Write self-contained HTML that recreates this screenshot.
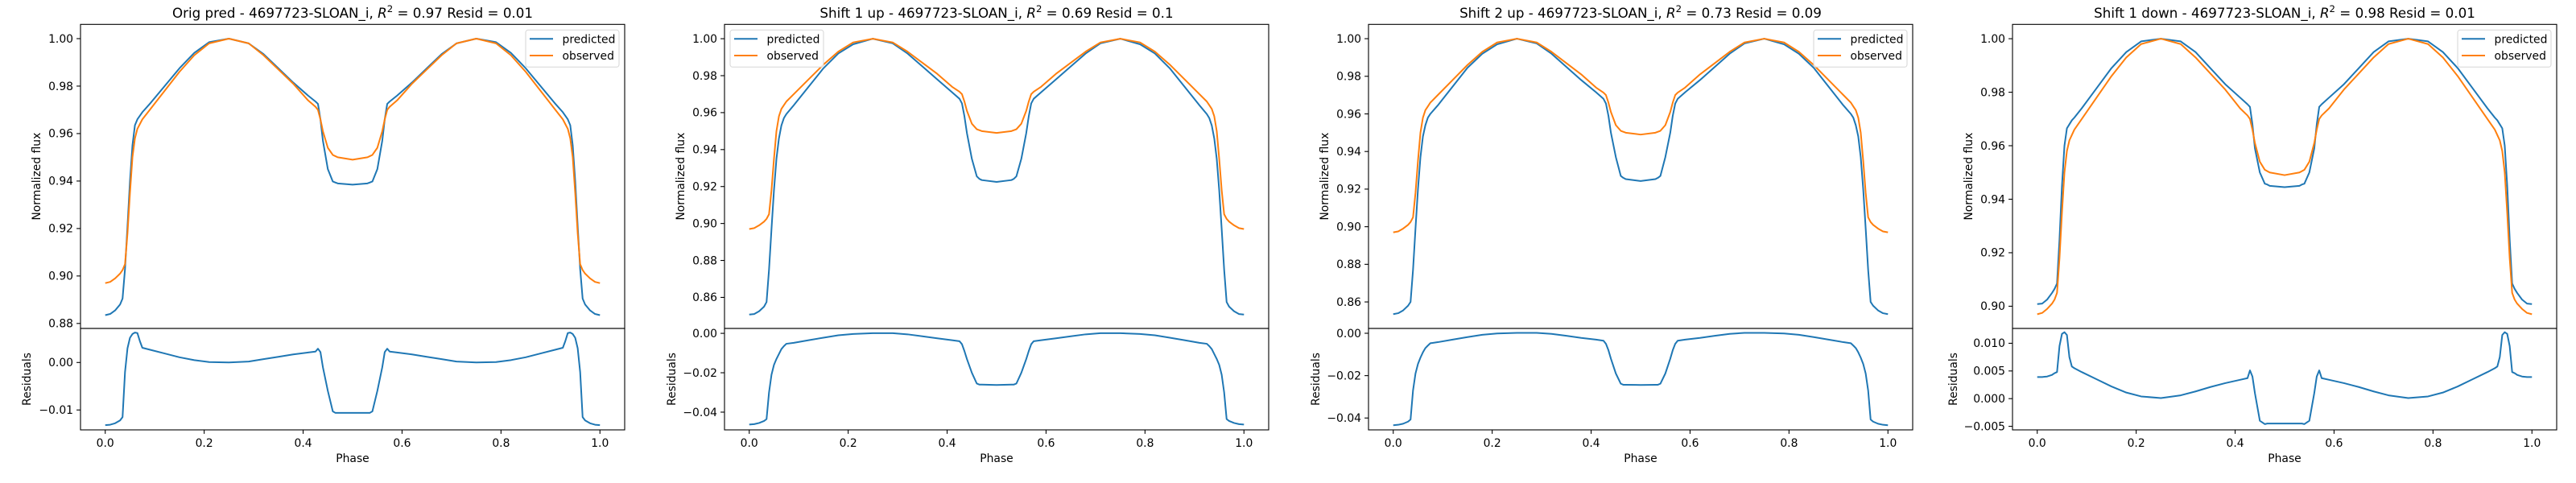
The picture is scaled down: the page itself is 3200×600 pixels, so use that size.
<!DOCTYPE html>
<html><head><meta charset="utf-8"><style>
html,body{margin:0;padding:0;background:#fff;}
svg{display:block;font-family:"DejaVu Sans","Liberation Sans",sans-serif;}
</style></head><body>
<svg id="fig" width="3200" height="600" viewBox="0 0 3200 600" xmlns="http://www.w3.org/2000/svg"></svg>
<script>
const phase = [0,0.01,0.02,0.03,0.035,0.04,0.045,0.05,0.055,0.06,0.065,0.07,0.075,0.09,0.12,0.15,0.18,0.21,0.25,0.29,0.32,0.35,0.38,0.41,0.425,0.43,0.435,0.44,0.45,0.46,0.465,0.47,0.5,0.53,0.535,0.54,0.55,0.56,0.565,0.57,0.575,0.59,0.62,0.65,0.68,0.71,0.75,0.79,0.82,0.85,0.88,0.91,0.925,0.93,0.935,0.94,0.945,0.95,0.955,0.96,0.965,0.97,0.98,0.99,1.0];
const observed = [0.897,0.8975,0.899,0.901,0.9025,0.905,0.918,0.935,0.95,0.958,0.962,0.964,0.966,0.970,0.978,0.986,0.993,0.998,1.000,0.998,0.993,0.987,0.981,0.974,0.9713,0.970,0.966,0.961,0.954,0.951,0.9505,0.950,0.949,
0.950,0.9505,0.951,0.954,0.961,0.966,0.970,0.9713,0.974,0.981,0.987,0.993,0.998,1.000,0.998,0.993,0.986,0.978,0.970,0.966,0.964,0.962,0.958,0.95,0.935,0.918,0.905,0.9025,0.901,0.899,0.8975,0.897];
const predOrig = [0.8835,0.884,0.8855,0.888,0.8905,0.903,0.921,0.940,0.955,0.9635,0.966,0.9675,0.969,0.9725,0.980,0.9875,0.994,0.9985,1.000,0.998,0.9935,0.9875,0.9815,0.976,0.9735,0.9725,0.966,0.957,0.945,0.9398,0.9394,0.939,0.9385,
0.939,0.9394,0.9398,0.945,0.957,0.966,0.9725,0.9735,0.976,0.9815,0.9875,0.9935,0.998,1.000,0.9985,0.994,0.9875,0.980,0.9725,0.969,0.9675,0.966,0.9635,0.955,0.940,0.921,0.903,0.8905,0.888,0.8855,0.884,0.8835];
const predUp1 = [0.8507,0.851,0.8525,0.855,0.8575,0.875,0.897,0.918,0.935,0.946,0.953,0.957,0.9592,0.964,0.974,0.984,0.992,0.997,1.000,0.9975,0.992,0.985,0.978,0.971,0.9675,0.965,0.958,0.949,0.935,0.9255,0.9242,0.9235,0.9225,
0.9235,0.9242,0.9255,0.935,0.949,0.958,0.965,0.9675,0.971,0.978,0.985,0.992,0.9975,1.000,0.997,0.992,0.984,0.974,0.964,0.9592,0.957,0.953,0.946,0.935,0.918,0.897,0.875,0.8575,0.855,0.8525,0.851,0.8507];
const predUp2 = [0.8535,0.854,0.8555,0.858,0.860,0.877,0.899,0.920,0.937,0.948,0.954,0.958,0.960,0.9645,0.9745,0.9845,0.992,0.997,1.000,0.9975,0.992,0.985,0.978,0.9715,0.968,0.9655,0.959,0.950,0.937,0.927,0.926,0.9253,0.9243,
0.9253,0.926,0.927,0.937,0.950,0.959,0.9655,0.968,0.9715,0.978,0.985,0.992,0.9975,1.000,0.997,0.992,0.9845,0.9745,0.9645,0.960,0.958,0.954,0.948,0.937,0.920,0.899,0.877,0.860,0.858,0.8555,0.854,0.8535];
const predDown1 = [0.9008,0.901,0.9025,0.905,0.9065,0.9085,0.925,0.945,0.960,0.9665,0.968,0.9695,0.9705,0.974,0.9815,0.989,0.995,0.999,1.000,0.999,0.995,0.989,0.983,0.978,0.9755,0.9745,0.968,0.959,0.950,0.9458,0.9455,0.945,0.9445,
0.945,0.9455,0.9458,0.950,0.959,0.968,0.9745,0.9755,0.978,0.983,0.989,0.995,0.999,1.000,0.999,0.995,0.989,0.9815,0.974,0.9705,0.9695,0.968,0.9665,0.960,0.945,0.925,0.9085,0.9065,0.905,0.9025,0.901,0.9008];
const residOrig = [-0.0132,-0.0131,-0.0128,-0.0122,-0.0115,-0.002,0.003,0.0052,0.006,0.0063,0.0062,0.0045,0.0031,0.0027,0.0019,0.0011,0.0005,0.0001,0.0,0.0002,0.0007,0.0012,0.0017,0.0021,0.0023,0.0029,0.0022,-0.001,-0.006,-0.0103,-0.0106,-0.0106,-0.0106,
-0.0106,-0.0106,-0.0103,-0.006,-0.001,0.0022,0.0029,0.0023,0.0021,0.0017,0.0012,0.0007,0.0002,0.0,0.0001,0.0005,0.0011,0.0019,0.0027,0.0031,0.0045,0.0062,0.0063,0.006,0.0052,0.003,-0.002,-0.0115,-0.0122,-0.0128,-0.0131,-0.0132];
const residUp1 = [-0.0463,-0.0461,-0.0455,-0.0445,-0.0435,-0.030,-0.021,-0.016,-0.013,-0.0105,-0.008,-0.0065,-0.0053,-0.0048,-0.0035,-0.0022,-0.001,-0.0003,0.0001,0.0001,-0.0005,-0.0015,-0.0025,-0.0035,-0.004,-0.0055,-0.009,-0.013,-0.020,-0.0255,-0.026,-0.026,-0.0262,
-0.026,-0.026,-0.0255,-0.020,-0.013,-0.009,-0.0055,-0.004,-0.0035,-0.0025,-0.0015,-0.0005,0.0001,0.0001,-0.0003,-0.001,-0.0022,-0.0035,-0.0048,-0.0053,-0.0065,-0.008,-0.0105,-0.013,-0.016,-0.021,-0.030,-0.0435,-0.0445,-0.0455,-0.0461,-0.0463];
const residUp2 = [-0.0434,-0.0432,-0.0427,-0.0417,-0.0407,-0.027,-0.019,-0.0145,-0.0115,-0.009,-0.007,-0.0058,-0.0047,-0.0042,-0.003,-0.0018,-0.0007,-0.0001,0.0002,0.0002,-0.0003,-0.0012,-0.0022,-0.003,-0.0035,-0.005,-0.008,-0.012,-0.019,-0.0238,-0.0243,-0.0243,-0.0244,
-0.0243,-0.0243,-0.0238,-0.019,-0.012,-0.008,-0.005,-0.0035,-0.003,-0.0022,-0.0012,-0.0003,0.0002,0.0002,-0.0001,-0.0007,-0.0018,-0.003,-0.0042,-0.0047,-0.0058,-0.007,-0.009,-0.0115,-0.0145,-0.019,-0.027,-0.0407,-0.0417,-0.0427,-0.0432,-0.0434];
const residDown1 = [0.0039,0.0039,0.004,0.0043,0.0046,0.0048,0.0095,0.0117,0.012,0.0115,0.0075,0.0058,0.0055,0.0048,0.0035,0.0022,0.0011,0.0004,0.0001,0.0006,0.0013,0.0021,0.0028,0.0034,0.0037,0.0051,0.004,0.001,-0.004,-0.0046,-0.0045,-0.0045,-0.0045,
-0.0045,-0.0045,-0.0046,-0.004,0.001,0.004,0.0051,0.0037,0.0034,0.0028,0.0021,0.0013,0.0006,0.0001,0.0004,0.0011,0.0022,0.0035,0.0048,0.0055,0.0058,0.0075,0.0115,0.012,0.0117,0.0095,0.0048,0.0046,0.0043,0.004,0.0039,0.0039];
const titles = ["Orig pred", "Shift 1 up", "Shift 2 up", "Shift 1 down"];
const r2Values = ["0.97", "0.69", "0.73", "0.98"];
const residValues = ["0.01", "0.1", "0.09", "0.01"];
const xTicks = [0, 0.2, 0.4, 0.6, 0.8, 1.0];
const xTickLabels = ["0.0", "0.2", "0.4", "0.6", "0.8", "1.0"];
const fluxTicks1 = [0.88, 0.90, 0.92, 0.94, 0.96, 0.98, 1.00];
const fluxTicks2 = [0.86, 0.88, 0.90, 0.92, 0.94, 0.96, 0.98, 1.00];
const fluxTicks3 = [0.86, 0.88, 0.90, 0.92, 0.94, 0.96, 0.98, 1.00];
const fluxTicks4 = [0.90, 0.92, 0.94, 0.96, 0.98, 1.00];
const residTicks1 = [-0.01, 0.00];
const residTicks2 = [-0.04, -0.02, 0.00];
const residTicks3 = [-0.04, -0.02, 0.00];
const residTicks4 = [-0.005, 0.000, 0.005, 0.010];

const NS = "http://www.w3.org/2000/svg";
const svg = document.getElementById("fig");
function mk(tag, attrs, parent) {
  const e = document.createElementNS(NS, tag);
  for (const k in attrs) e.setAttribute(k, attrs[k]);
  (parent || svg).appendChild(e);
  return e;
}
const panels = [
  {pred: predOrig, res: residOrig, ft: fluxTicks1, rt: residTicks1, fd: 2, rd: 2, fy: [1.0060, 0.8779], ry: [0.00717, -0.01419], leg: "right", rl: 67},
  {pred: predUp1, res: residUp1, ft: fluxTicks2, rt: residTicks2, fd: 2, rd: 2, fy: [1.00775, 0.8432], ry: [0.00249, -0.0490], leg: "left", rl: 66},
  {pred: predUp2, res: residUp2, ft: fluxTicks3, rt: residTicks3, fd: 2, rd: 2, fy: [1.0076, 0.8459], ry: [0.00228, -0.0456], leg: "right", rl: 66},
  {pred: predDown1, res: residDown1, ft: fluxTicks4, rt: residTicks4, fd: 2, rd: 3, fy: [1.00535, 0.8917], ry: [0.01268, -0.00564], leg: "right", rl: 74}
];
const TOP = 30.3, MID = 408, BOT = 534;
function fmt(v, d) { const s = Math.abs(v).toFixed(d); return (v < -1e-12 ? "\u2212" : "") + s; }

panels.forEach((p, i) => {
  const L = 100 + 800 * i, R = 776 + 800 * i;
  const g = mk("g", {});
  
  
  const xs = v => L + (v + 0.05) / 1.1 * (R - L);
  const yf = v => TOP + (p.fy[0] - v) / (p.fy[0] - p.fy[1]) * (MID - TOP);
  const yr = v => MID + (p.ry[0] - v) / (p.ry[0] - p.ry[1]) * (BOT - MID);

  // title
  const t = mk("text", {x: (L + R) / 2, y: 22, "text-anchor": "middle", "font-size": "16.7", fill: "#000"}, g);
  
  
  t.appendChild(document.createTextNode(titles[i] + " - 4697723-SLOAN_i, "));
  const ri = mk("tspan", {"font-style": "italic"}, t); ri.textContent = "R";
  const sup = mk("tspan", {dy: "-7", "font-size": "11.7"}, t); sup.textContent = "2";
  const rest = mk("tspan", {dy: "7"}, t); rest.textContent = " = " + r2Values[i] + " Resid = " + residValues[i];

  const clipId = "c" + i, clipId2 = "d" + i;
  const defs = mk("defs", {}, g);
  const cp = mk("clipPath", {id: clipId}, defs); mk("rect", {x: L, y: TOP, width: R - L, height: MID - TOP}, cp);
  const cp2 = mk("clipPath", {id: clipId2}, defs); mk("rect", {x: L, y: MID, width: R - L, height: BOT - MID}, cp2);

  // lines
  const mkPath = (arr, yfn) => phase.map((ph, k) => (k ? "L" : "M") + xs(ph).toFixed(2) + "," + yfn(arr[k]).toFixed(2)).join("");
  const lp = mk("path", {d: mkPath(p.pred, yf), fill: "none", stroke: "#1f77b4", "stroke-width": 2, "stroke-linejoin": "round", "clip-path": "url(#" + clipId + ")"}, g);
  
  
  const lo = mk("path", {d: mkPath(observed, yf), fill: "none", stroke: "#ff7f0e", "stroke-width": 2, "stroke-linejoin": "round", "clip-path": "url(#" + clipId + ")"}, g);
  
  
  const lr = mk("path", {d: mkPath(p.res, yr), fill: "none", stroke: "#1f77b4", "stroke-width": 2, "stroke-linejoin": "round", "clip-path": "url(#" + clipId2 + ")"}, g);
  
  

  // frames
  const f1 = mk("rect", {x: L, y: TOP, width: R - L, height: MID - TOP, fill: "none", stroke: "#000", "stroke-width": 1.1}, g);
  
  
  const f2 = mk("rect", {x: L, y: MID, width: R - L, height: BOT - MID, fill: "none", stroke: "#000", "stroke-width": 1.1}, g);
  
  

  // y ticks flux
  p.ft.forEach(v => {
    const y = yf(v);
    mk("line", {x1: L - 4.9, x2: L, y1: y, y2: y, stroke: "#000", "stroke-width": 1.1}, g);
    const tl = mk("text", {x: L - 9, y: y + 4.8, "text-anchor": "end", "font-size": "13.9"}, g);
    
    
    tl.textContent = fmt(v, p.fd);
  });
  p.rt.forEach(v => {
    const y = yr(v);
    mk("line", {x1: L - 4.9, x2: L, y1: y, y2: y, stroke: "#000", "stroke-width": 1.1}, g);
    const tl = mk("text", {x: L - 9, y: y + 4.8, "text-anchor": "end", "font-size": "13.9"}, g);
    
    
    tl.textContent = fmt(v, p.rd);
  });
  xTicks.forEach((v, k) => {
    const x = xs(v);
    mk("line", {x1: x, x2: x, y1: BOT, y2: BOT + 4.9, stroke: "#000", "stroke-width": 1.1}, g);
    const tl = mk("text", {x: x, y: BOT + 21, "text-anchor": "middle", "font-size": "13.9"}, g);
    
    
    tl.textContent = xTickLabels[k];
  });

  // axis labels
  const xl = mk("text", {x: (L + R) / 2, y: 574, "text-anchor": "middle", "font-size": "13.9"}, g);
  
  
  xl.textContent = "Phase";
  const yc = (TOP + MID) / 2, yx = L - 50;
  const yl = mk("text", {x: yx, y: yc, "text-anchor": "middle", "font-size": "13.9", transform: "rotate(-90 " + yx + " " + yc + ")"}, g);
  
  
  yl.textContent = "Normalized flux";
  const rc = (MID + BOT) / 2, rx = L - p.rl + 5;
  const rl = mk("text", {x: rx, y: rc, "text-anchor": "middle", "font-size": "13.9", transform: "rotate(-90 " + rx + " " + rc + ")"}, g);
  
  
  rl.textContent = "Residuals";

  // legend
  const lw = 116, lh = 46;
  const lx = p.leg === "left" ? L + 7 : R - 7 - lw, ly = TOP + 7;
  const lg = mk("g", {}, g);
  
  
  mk("rect", {x: lx, y: ly, width: lw, height: lh, rx: 3, fill: "#fff", "fill-opacity": 0.8, stroke: "#d6d6d6", "stroke-width": 1}, lg);
  [["predicted", "#1f77b4", 11], ["observed", "#ff7f0e", 31.7]].forEach(([lab, col, dy]) => {
    const e = mk("g", {}, lg);
    
    
    mk("line", {x1: lx + 5, x2: lx + 34, y1: ly + dy, y2: ly + dy, stroke: col, "stroke-width": 2}, e);
    const tx = mk("text", {x: lx + 45.5, y: ly + dy + 5, "font-size": "13.9"}, e);
    tx.textContent = lab;
  });
});
</script>
</body></html>
